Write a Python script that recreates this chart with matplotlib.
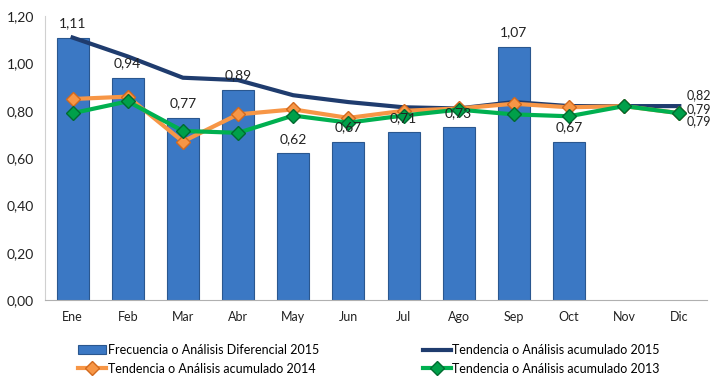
import matplotlib.pyplot as plt
import numpy as np

# Datos
meses = ["Ene", "Feb", "Mar", "Abr", "May", "Jun", "Jul", "Ago", "Sep", "Oct", "Nov", "Dic"]
frecuencia_2015 = [1.11, 0.94, 0.77, 0.89, 0.62, 0.67, 0.71, 0.73, 1.07, 0.67]
tendencia_2015 = [1.11, 1.03, 0.94, 0.93, 0.866, 0.837, 0.815, 0.81, 0.837, 0.82, 0.82, 0.82]
tendencia_2014 = [0.85, 0.86, 0.67, 0.785, 0.806, 0.77, 0.80, 0.81, 0.83, 0.815, 0.82, 0.79]
tendencia_2013 = [0.79, 0.84, 0.715, 0.707, 0.78, 0.75, 0.78, 0.805, 0.785, 0.777, 0.82, 0.79]
yticks = [0.0, 0.2, 0.4, 0.6, 0.8, 1.0, 1.2]

plt.rcParams['font.family'] = ['Lato', 'DejaVu Sans']


def coma(v):
    return f"{v:.2f}".replace(".", ",")


fig = plt.figure(figsize=(7.21, 3.85), dpi=100)
ax = fig.add_axes([0.0624, 0.2208, 0.918, 0.737])

x = np.arange(len(meses))
xb = np.arange(len(frecuencia_2015))

# Barras
barras = ax.bar(xb, frecuencia_2015, width=0.58, color="#3B78C4",
                edgecolor="#2A578F", linewidth=0.8, zorder=2,
                label="Frecuencia o Análisis Diferencial 2015")

# Lineas de tendencia
l15, = ax.plot(x, tendencia_2015, color="#1F3C6E", lw=3, zorder=3,
               label="Tendencia o Análisis acumulado 2015")
l14, = ax.plot(x, tendencia_2014, color="#F79646", lw=3, marker="D", ms=7,
               markerfacecolor="#F79646", markeredgecolor="#D2691E", zorder=4,
               label="Tendencia o Análisis acumulado 2014")
l13, = ax.plot(x, tendencia_2013, color="#00B050", lw=3, marker="D", ms=7,
               markerfacecolor="#00A04A", markeredgecolor="#006B30", zorder=5,
               label="Tendencia o Análisis acumulado 2013")

# Etiquetas de las barras
for xi, v in zip(xb, frecuencia_2015):
    ax.annotate(coma(v), (xi, v), xytext=(0, 6), textcoords="offset points",
                ha="center", va="bottom", fontsize=10, color="#222222", zorder=6)

# Etiquetas al final de las lineas
ax.annotate(coma(tendencia_2015[-1]), (x[-1], tendencia_2015[-1]), xytext=(5, 8),
            textcoords="offset points", ha="left", va="center", fontsize=9, color="#222222")
ax.annotate(coma(tendencia_2014[-1]), (x[-1], tendencia_2014[-1]), xytext=(5, 3),
            textcoords="offset points", ha="left", va="center", fontsize=9, color="#222222")
ax.annotate(coma(tendencia_2013[-1]), (x[-1], tendencia_2013[-1]), xytext=(5, -6),
            textcoords="offset points", ha="left", va="center", fontsize=9, color="#222222")

ax.set_xlim(-0.5, len(meses) - 0.5)
ax.set_ylim(0, 1.2)
ax.set_xticks(x)
ax.set_xticklabels(meses, fontsize=9)
ax.set_yticks(yticks)
ax.set_yticklabels([coma(t) for t in yticks], fontsize=10)
ax.tick_params(length=0, pad=8, colors="#222222")

for s in ["top", "right"]:
    ax.spines[s].set_visible(False)
ax.spines["left"].set_color("#d0d0d0")
ax.spines["bottom"].set_color("#b0b0b0")

fig.legend(handles=[barras, l14, l15, l13], ncol=2, loc="lower left",
           bbox_to_anchor=(0.105, 0.02), frameon=False, fontsize=9,
           columnspacing=8.3, handlelength=2.25, handletextpad=0.1, labelspacing=0.55,
           borderpad=0.2, borderaxespad=0.0)

fig.savefig("out.png", dpi=100)
